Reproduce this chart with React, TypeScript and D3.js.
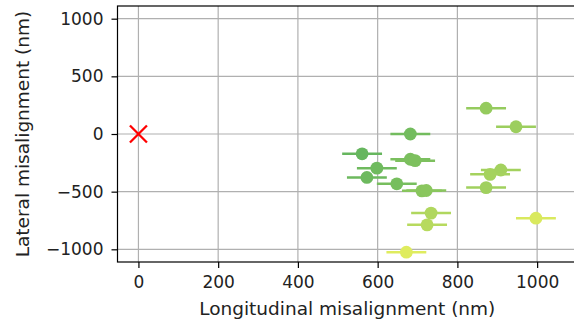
import React, { useEffect, useRef } from 'react';
import * as d3 from 'd3';

// measured misalignments (nm)
const longitudinal = [561, 573, 598, 648, 682, 682, 694, 711, 722, 872, 947, 909, 882, 872, 734, 724, 997, 672];
const lateral = [-172, -377, -296, -432, 0, -219, -231, -493, -490, 224, 63, -312, -350, -465, -686, -788, -730, -1025];
const colorPos = [0.05, 0.1, 0.12, 0.18, 0.15, 0.2, 0.22, 0.3, 0.32, 0.4, 0.45, 0.5, 0.52, 0.48, 0.6, 0.65, 0.9, 0.95];
const xErr = 50;
const xTicks = [0, 200, 400, 600, 800, 1000];
const yTicks = [-1000, -500, 0, 500, 1000];

const W = 574;
const H = 322;

export default function App() {
  const svgRef = useRef<SVGSVGElement>(null);

  useEffect(() => {
    if (!svgRef.current) return;
    const svg = d3.select(svgRef.current);
    svg.selectAll('*').remove();

    const left = 117.5, right = 577, top = 6, bottom = 262;
    const x = d3.scaleLinear().domain([-52.5, 1100]).range([left, right]);
    const y = d3.scaleLinear().domain([-1110, 1110]).range([bottom, top]);
    const color = d3.interpolateRgb('#5fb35e', '#e6ef5e');
    const font = 'DejaVu Sans, sans-serif';

    // grid
    const grid = svg.append('g');
    grid.selectAll('line.gx').data(xTicks).enter().append('line')
      .attr('x1', d => x(d)).attr('x2', d => x(d))
      .attr('y1', top).attr('y2', bottom)
      .attr('stroke', '#b0b0b0').attr('stroke-width', 1.2);
    grid.selectAll('line.gy').data(yTicks).enter().append('line')
      .attr('x1', left).attr('x2', right)
      .attr('y1', d => y(d)).attr('y2', d => y(d))
      .attr('stroke', '#b0b0b0').attr('stroke-width', 1.2);

    // reference point
    const cx = x(0), cy = y(0), s = 8.5;
    const mark = svg.append('g').attr('stroke', '#ff0000').attr('stroke-width', 2.3);
    mark.append('line').attr('x1', cx - s).attr('y1', cy - s).attr('x2', cx + s).attr('y2', cy + s);
    mark.append('line').attr('x1', cx - s).attr('y1', cy + s).attr('x2', cx + s).attr('y2', cy - s);

    // data with error bars
    const pts = svg.append('g');
    longitudinal.forEach((lx, i) => {
      const c = color(colorPos[i]);
      pts.append('line')
        .attr('x1', x(lx - xErr)).attr('x2', x(lx + xErr))
        .attr('y1', y(lateral[i])).attr('y2', y(lateral[i]))
        .attr('stroke', c).attr('stroke-width', 2.5);
      pts.append('circle')
        .attr('cx', x(lx)).attr('cy', y(lateral[i]))
        .attr('r', 6.4).attr('fill', c);
    });

    // axes
    const fmt = (d: d3.NumberValue) => d3.format('d')(d as number).replace('-', '\u2212');
    const xAxis = svg.append('g')
      .attr('transform', `translate(0,${bottom})`)
      .call(d3.axisBottom(x).tickValues(xTicks).tickSizeOuter(0).tickSize(6).tickPadding(8).tickFormat(fmt));
    const yAxis = svg.append('g')
      .attr('transform', `translate(${left},0)`)
      .call(d3.axisLeft(y).tickValues(yTicks).tickSizeOuter(0).tickSize(6).tickPadding(8).tickFormat(fmt));
    [xAxis, yAxis].forEach(g => {
      g.select('.domain').remove();
      g.selectAll('.tick line').attr('stroke', '#000').attr('stroke-width', 1.2);
      g.selectAll('.tick text').attr('fill', '#222').attr('font-size', '17px').attr('font-family', font);
    });

    // frame
    svg.append('rect')
      .attr('x', left).attr('y', top)
      .attr('width', right - left).attr('height', bottom - top)
      .attr('fill', 'none').attr('stroke', '#000').attr('stroke-width', 1.2);

    svg.append('text')
      .attr('x', (left + right) / 2).attr('y', 315)
      .attr('text-anchor', 'middle').attr('font-size', '18.5px').attr('font-family', font).attr('fill', '#222')
      .text('Longitudinal misalignment (nm)');
    svg.append('text')
      .attr('transform', `translate(28.5,${(top + bottom) / 2}) rotate(-90)`)
      .attr('text-anchor', 'middle').attr('font-size', '18.5px').attr('font-family', font).attr('fill', '#222')
      .text('Lateral misalignment (nm)');
  }, []);

  return (
    <svg ref={svgRef} width={W} height={H}
      style={{ position: 'absolute', left: 0, top: 0, background: '#fff' }} />
  );
}
